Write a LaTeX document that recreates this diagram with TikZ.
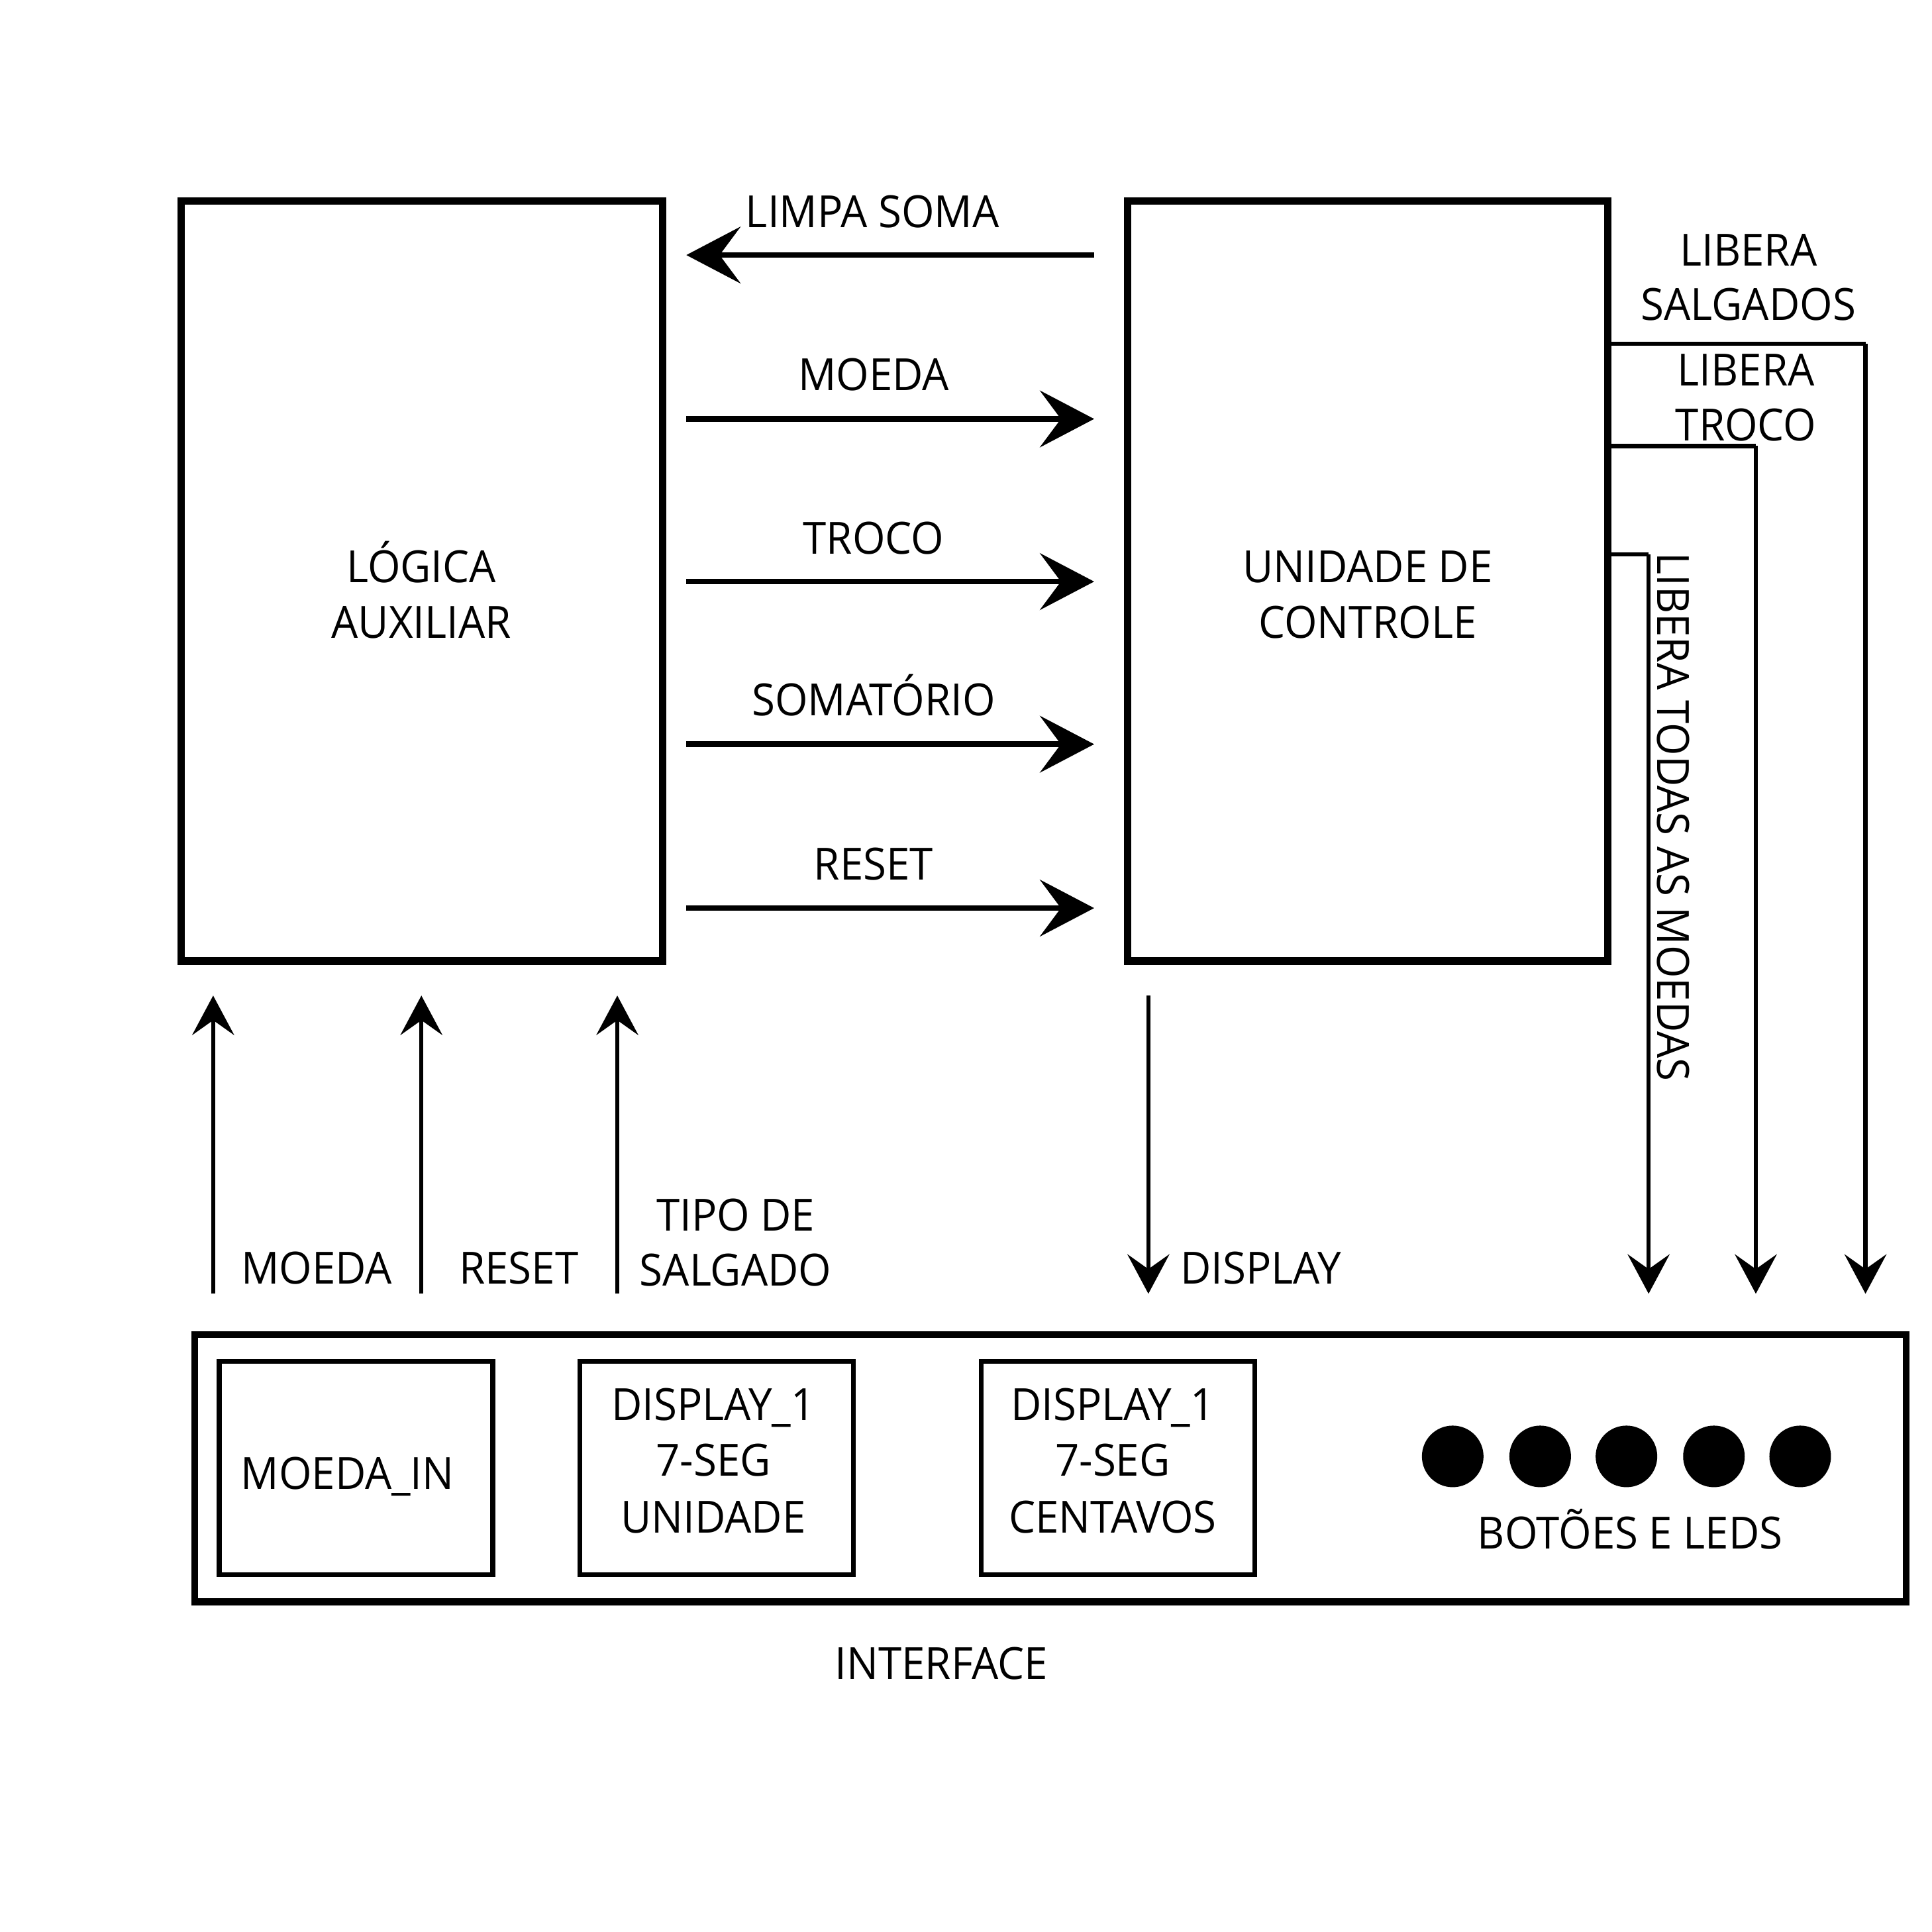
\documentclass[tikz,border=0pt]{standalone}
\usepackage{fontspec}
\setmainfont{Open Sans}[FakeStretch=0.95]
\usetikzlibrary{arrows.meta}
\tikzset{
  bigbox/.style={draw, line width=6pt, inner sep=0pt},
  smallbox/.style={draw, line width=4pt, inner sep=0pt, minimum width=222pt, minimum height=173pt},
  lbl/.style={inner sep=0pt, text height=25.7pt, text depth=0pt, font=\fontsize{36}{45}\selectfont},
  harrow/.style={line width=4.5pt, -{Stealth[length=44pt,width=46pt,inset=17pt]}},
  varrow/.style={line width=3.5pt, -{Stealth[length=32pt,width=34pt,inset=12pt]}},
  wire/.style={line width=3.5pt},
  led/.style={fill=black, circle, minimum size=50pt, inner sep=0pt},
}
\begin{document}
\begin{tikzpicture}[x=1pt, y=-1pt]
\useasboundingbox (0,0) rectangle (1568,1568);
% main boxes
\node[bigbox, minimum width=391pt, minimum height=617pt] (aux) at (342.5,471.5) {};
\node[bigbox, minimum width=390pt, minimum height=617pt] (ctrl) at (1110,471.5) {};
\node[lbl] (auxA) at (342,460) {LÓGICA};
\node[lbl] (auxB) at (342,505) {AUXILIAR};
\node[lbl] (ctrlA) at (1110,460) {UNIDADE DE};
\node[lbl] (ctrlB) at (1110,505) {CONTROLE};
% horizontal arrows
\coordinate (l1) at (557,207); \coordinate (r1) at (888,207);
\coordinate (l2) at (557,340); \coordinate (r2) at (888,340);
\coordinate (l3) at (557,472); \coordinate (r3) at (888,472);
\coordinate (l4) at (557,604); \coordinate (r4) at (888,604);
\coordinate (l5) at (557,737); \coordinate (r5) at (888,737);
\draw[harrow] (r1) -- (l1);
\draw[harrow] (l2) -- (r2);
\draw[harrow] (l3) -- (r3);
\draw[harrow] (l4) -- (r4);
\draw[harrow] (l5) -- (r5);
\node[lbl] (tl1) at (708,172) {LIMPA SOMA};
\node[lbl] (tl2) at (709,304) {MOEDA};
\node[lbl] (tl3) at (709,437) {TROCO};
\node[lbl] (tl4) at (709,568) {SOMATÓRIO};
\node[lbl] (tl5) at (709,701) {RESET};
% right side wires
\coordinate (w1s) at (1305,279); \coordinate (w1c) at (1514,279); \coordinate (w1e) at (1514,1050);
\coordinate (w2s) at (1305,362); \coordinate (w2c) at (1425,362); \coordinate (w2e) at (1425,1050);
\coordinate (w3s) at (1305,450); \coordinate (w3c) at (1338,450); \coordinate (w3e) at (1338,1050);
\draw[wire] (w1s) -- (w1c);
\draw[varrow] (w1c) -- (w1e);
\draw[wire] (w2s) -- (w2c);
\draw[varrow] (w2c) -- (w2e);
\draw[wire] (w3s) -- (w3c);
\draw[varrow] (w3c) -- (w3e);
\node[lbl] (ls1) at (1419,203) {LIBERA};
\node[lbl] (ls2) at (1419,247) {SALGADOS};
\node[lbl] (lt1) at (1417,300) {LIBERA};
\node[lbl] (lt2) at (1417,345) {TROCO};
\node[lbl, rotate=-90] (lm) at (1358,663) {LIBERA TODAS AS MOEDAS};
% up arrows
\coordinate (u1b) at (173,1050); \coordinate (u1t) at (173,808);
\coordinate (u2b) at (342,1050); \coordinate (u2t) at (342,808);
\coordinate (u3b) at (501,1050); \coordinate (u3t) at (501,808);
\draw[varrow] (u1b) -- (u1t);
\draw[varrow] (u2b) -- (u2t);
\draw[varrow] (u3b) -- (u3t);
\node[lbl] (tu1) at (257,1029) {MOEDA};
\node[lbl] (tu2) at (421,1029) {RESET};
\node[lbl] (tu3a) at (597,986) {TIPO DE};
\node[lbl] (tu3b) at (597,1031) {SALGADO};
% display arrow
\coordinate (dt) at (932,808); \coordinate (db) at (932,1050);
\draw[varrow] (dt) -- (db);
\node[lbl, anchor=west] (td) at (958,1029) {DISPLAY};
% interface
\node[draw, line width=5.5pt, inner sep=0pt, minimum width=1389pt, minimum height=217pt] (intf) at (852.5,1191.5) {};
\node[smallbox] (moedain) at (289,1191.5) {};
\node[smallbox] (disp1) at (581.5,1191.5) {};
\node[smallbox] (disp2) at (907.5,1191.5) {};
\node[lbl] (tmi) at (282,1196) {MOEDA\_IN};
\node[lbl] (td1a) at (579,1140) {DISPLAY\_1};
\node[lbl] (td1b) at (579,1185) {7-SEG};
\node[lbl] (td1c) at (579,1231) {UNIDADE};
\node[lbl] (td2a) at (903,1140) {DISPLAY\_1};
\node[lbl] (td2b) at (903,1185) {7-SEG};
\node[lbl] (td2c) at (903,1231) {CENTAVOS};
\node[led] (led1) at (1179,1182) {};
\node[led] (led2) at (1250,1182) {};
\node[led] (led3) at (1320,1182) {};
\node[led] (led4) at (1391,1182) {};
\node[led] (led5) at (1461,1182) {};
\node[lbl] (tleds) at (1323,1244) {BOTÕES E LEDS};
\node[lbl] (tint) at (764,1350) {INTERFACE};
\end{tikzpicture}
\end{document}
